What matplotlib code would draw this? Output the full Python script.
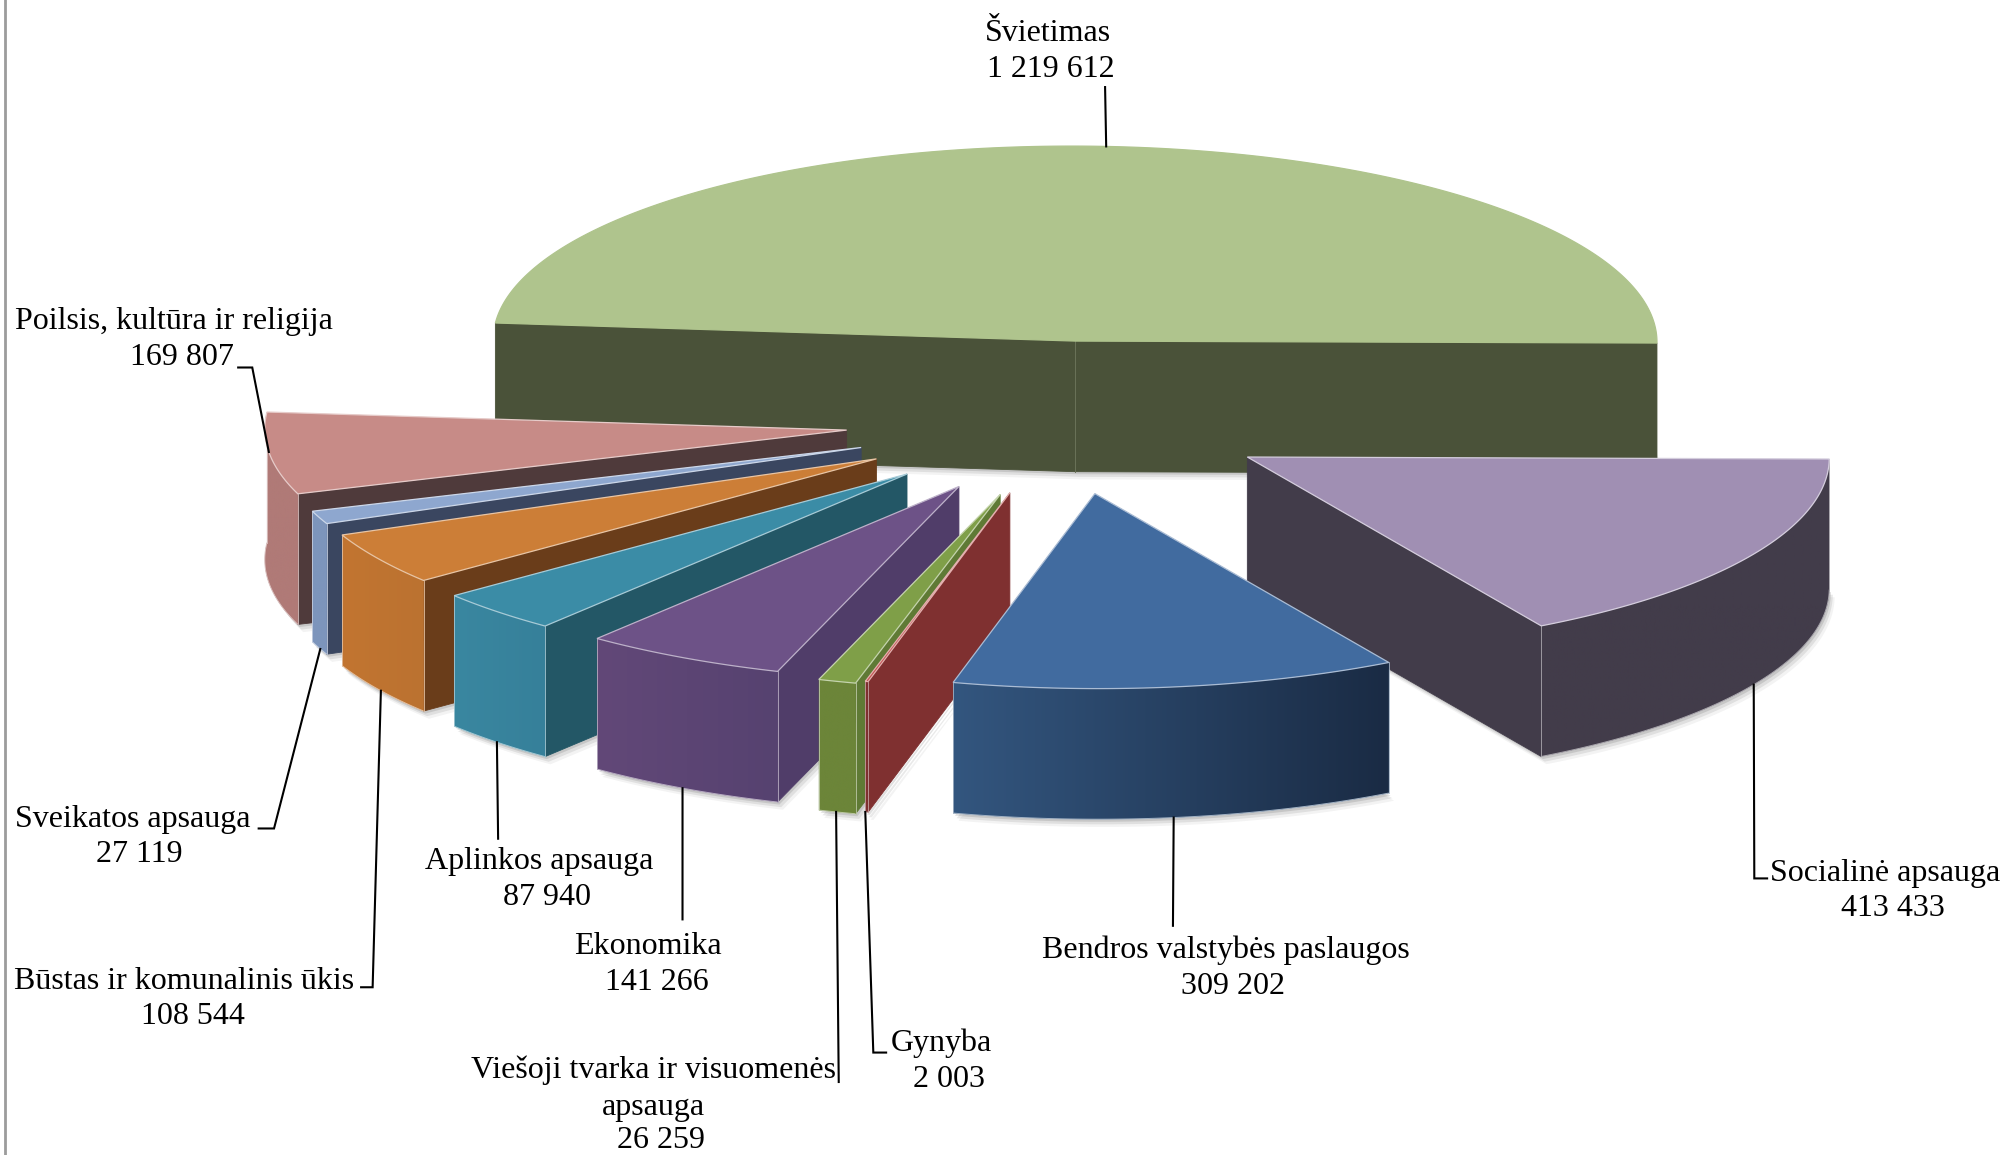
import numpy as np
import matplotlib
matplotlib.use("Agg")
import matplotlib.pyplot as plt
from matplotlib.colors import LinearSegmentedColormap, to_rgb
from matplotlib.patches import Polygon

plt.rcParams['font.family'] = ['Liberation Serif', 'DejaVu Sans']

names = ["Švietimas", "Socialinė apsauga", "Bendros valstybės paslaugos", "Gynyba",
         "Viešoji tvarka ir visuomenės\napsauga", "Ekonomika", "Aplinkos apsauga",
         "Būstas ir komunalinis ūkis", "Sveikatos apsauga", "Poilsis, kultūra ir religija"]
values = [1219612, 413433, 309202, 2003, 26259, 141266, 87940, 108544, 27119, 169807]

top_colors = ["#AFC48D", "#A08FB3", "#416B9F", "#C0504D", "#7F9F48", "#6D5287",
              "#3B8CA6", "#CC7E37", "#8EA7CF", "#C78B87"]
side_colors = ["#4A5239", "#423C4A", "#2A4568", "#7F3030", "#5F7A35", "#503D69",
               "#235766", "#6A3D1A", "#3A4660", "#4F3A3B"]
wall_left = ["#4A5239", "#423C4A", "#33567F", "#7F3030", "#6C8539", "#624878",
             "#3A87A0", "#C27531", "#7D95BC", "#B07A77"]
wall_right = ["#4A5239", "#423C4A", "#1A2B44", "#7F3030", "#6C8539", "#564270",
              "#36809A", "#BB7230", "#7D95BC", "#B07A77"]

# pie geometry, in the 1565 wide layout the labels are placed in
cx, cy = 831, 329
radius = 454
tilt = 0.335
depth = 102
roll = 0.0165
lean = 0.13
start = -87.5
explode = [187, 165, 170, 172, 178, 173, 174, 171, 170, 171]

draw_order = [0, 9, 8, 7, 6, 5, 4, 3, 1, 2]

# rough point where each leader meets its slice (snapped to the rim), and top/bottom rim
leader_anchor = {0: ((863, 113), 0), 1: ((1370, 535), 1), 2: ((916, 642), 1), 3: ((675, 636), 1),
                 4: ((653, 634), 1), 5: ((533, 616), 1), 6: ((389, 577), 1), 7: ((297, 540), 1),
                 8: ((250, 507), 1), 9: ((213, 352), 0)}
leader_path = {0: [(863, 68)], 1: [(1370, 686), (1380, 686)], 2: [(916, 723)],
               3: [(682, 822), (692, 822)], 4: [(655, 845)], 5: [(533, 718)], 6: [(389, 655)],
               7: [(291, 771), (282, 771)], 8: [(214, 647), (202, 647)], 9: [(197, 287), (186, 287)]}

# text lines: name lines and the number, each with its centre x and mid y
label_pos = {0: [(818, 25), (821, 53)], 1: [(1472, 681), (1478, 708)], 2: [(957, 741), (963, 769)],
             3: [(735, 814), (741, 842)], 4: [(510, 835), (510, 864), (516, 889.5)],
             5: [(506, 738), (513, 766)], 6: [(421, 672), (427, 700)],
             7: [(144, 765), (151, 793)], 8: [(104, 639), (109, 666)], 9: [(136, 250), (142, 278)]}

fig = plt.figure(figsize=(20.04, 11.55), dpi=100)
ax = fig.add_axes([0, 0, 1, 1])
ax.set_xlim(0, 1565)
ax.set_ylim(902, 0)
ax.autoscale(False)
ax.axis("off")

spans = np.array(values) / sum(values) * 360
edges = start + np.concatenate([[0], np.cumsum(spans)])


def project(theta, r, mid, e, z):
    t, m = np.radians(theta), np.radians(mid)
    x = cx + r * np.sin(t) + e * np.sin(m)
    y = cy - tilt * (r * np.cos(t) + e * np.cos(m))
    return np.column_stack([x - lean * (y - cy), y + roll * (x - cx) + z])


def mix(c1, c2, f):
    return tuple((1 - f) * a + f * b for a, b in zip(to_rgb(c1), to_rgb(c2)))


def draw_slice(i, base):
    a, b = edges[i], edges[i + 1]
    mid = (a + b) / 2
    e = explode[i]
    th = np.linspace(a, b, max(int(b - a) * 2, 4))
    apex_t = project(a, 0, mid, e, 0)
    apex_b = project(a, 0, mid, e, depth)
    rim_t = project(th, radius, mid, e, 0)
    rim_b = project(th, radius, mid, e, depth)

    floor = np.vstack([apex_b, rim_b])
    for off, al in [(6, 0.08), (4, 0.14), (2, 0.2)]:
        ax.add_patch(Polygon(floor + [off * 0.7, off], fc="#666666", ec="none", alpha=al, zorder=base))

    # radial faces that look towards the viewer
    faces = []
    if np.cos(np.radians(a - 90)) < 0:
        faces.append(0)
    if np.cos(np.radians(b + 90)) < 0:
        faces.append(-1)
    for f in faces:
        ax.add_patch(Polygon(np.vstack([apex_t, rim_t[f], rim_b[f], apex_b]),
                             fc=side_colors[i], ec=side_colors[i], lw=0.6, zorder=base + 1))

    # outer wall with its colour run from left to right (the first slice shows none)
    idx = np.where(np.cos(np.radians(th)) < 0.05)[0]
    if i != 0 and len(idx) > 1:
        wall = np.vstack([rim_t[idx], rim_b[idx][::-1]])
        shape = Polygon(wall, fc=mix(wall_left[i], wall_right[i], 0.5), ec="none", zorder=base + 2)
        ax.add_patch(shape)
        cmap = LinearSegmentedColormap.from_list("wall", [wall_left[i], wall_right[i]])
        im = ax.imshow(np.linspace(0, 1, 256)[None, :], cmap=cmap, aspect="auto", zorder=base + 3,
                       extent=[wall[:, 0].min(), wall[:, 0].max(), wall[:, 1].max(), wall[:, 1].min()])
        im.set_clip_path(shape)
        edge = mix(wall_left[i], "white", 0.55)
        ax.plot(rim_b[idx, 0], rim_b[idx, 1], color=edge, lw=0.7, solid_capstyle="butt", zorder=base + 4)
        for p in (idx[0], idx[-1]):
            ax.plot([rim_t[p, 0], rim_b[p, 0]], [rim_t[p, 1], rim_b[p, 1]], color=edge, lw=0.6,
                    zorder=base + 4)

    outline = np.vstack([apex_t, rim_t])
    light = mix(top_colors[i], "white", 0.55) if i else top_colors[i]
    ax.add_patch(Polygon(outline, fc=top_colors[i], ec=light, lw=0.9, zorder=base + 5))
    if i == 0:
        ax.plot([apex_t[0, 0], apex_b[0, 0]], [apex_t[0, 1], apex_b[0, 1]], color="#6A7258", lw=0.7,
                zorder=base + 4)


for n, i in enumerate(draw_order):
    draw_slice(i, 10 + n * 10)

for i in range(len(values)):
    target, on_floor = leader_anchor[i]
    a, b = edges[i], edges[i + 1]
    th = np.linspace(a, b, 200)
    rim = project(th, radius, (a + b) / 2, explode[i], depth * on_floor)
    p0 = rim[np.argmin(np.hypot(rim[:, 0] - target[0], rim[:, 1] - target[1]))]
    pts = np.vstack([p0, leader_path[i]])
    ax.plot(pts[:, 0], pts[:, 1], color="black", lw=1.5, solid_joinstyle="miter", zorder=200)

    number = f"{values[i]:,}".replace(",", " ")
    lines = names[i].split("\n") + [number]
    for line, (x, y) in zip(lines, label_pos[i]):
        ax.text(x, y + 7, line, ha="center", va="baseline", fontsize=23, color="black", zorder=210)

ax.plot([4, 4], [0, 902], color="#9C9C9C", lw=2, zorder=220)

fig.savefig("out.png", dpi=100)
